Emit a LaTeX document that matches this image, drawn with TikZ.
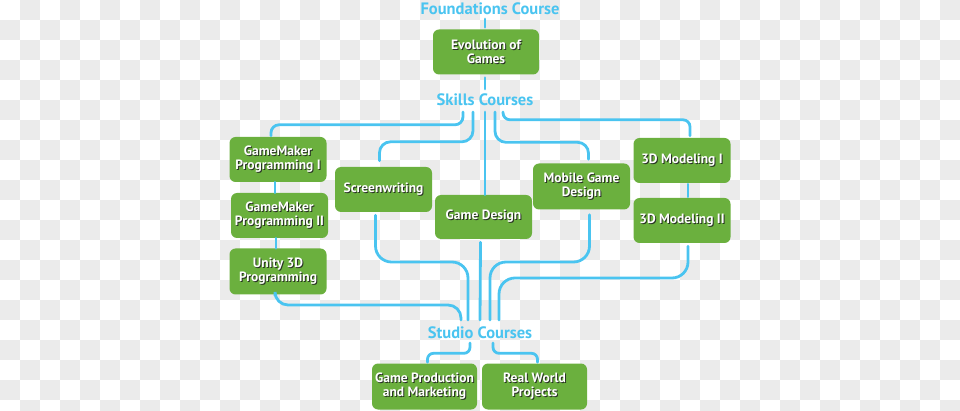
\documentclass[tikz,border=0pt]{standalone}
\usepackage{fontspec}
\setmainfont{PT Sans}
\newfontfamily\ptb{PT Sans Bold}
\usetikzlibrary{calc}
\definecolor{boxgreen}{RGB}{107,176,62}
\definecolor{lineblue}{RGB}{74,196,240}
\definecolor{chk}{RGB}{235,235,235}
\definecolor{shadowc}{RGB}{40,50,35}
\newcommand\sh[1]{\leavevmode\rlap{\kern1pt\raisebox{-1pt}{\textcolor{shadowc}{#1}}}#1}
\tikzset{
  coursebox/.style={rounded corners=6pt, fill=boxgreen, text=white, align=center,
    minimum width=97pt, minimum height=45pt, inner sep=2pt,
    font=\ptb\fontsize{13.5}{13.8}\selectfont},
  headlabel/.style={text=lineblue, font=\ptb\fontsize{16.5}{18}\selectfont,
    text height=11.8pt, text depth=0pt, inner sep=2pt},
  conn/.style={draw=lineblue, line width=2.8pt, line cap=round, rounded corners=11pt},
}
\begin{document}
\begin{tikzpicture}[x=1pt,y=-1pt]
\useasboundingbox (0,0) rectangle (960,411);
\begin{scope}
\clip (0,0) rectangle (960,411);
\foreach \i in {0,...,47}{
  \foreach \j in {0,...,20}{
    \pgfmathtruncatemacro\s{mod(\i+\j,2)}
    \ifnum\s=1 \fill[chk] (\i*20,\j*20) rectangle ++(20,20);\fi
  }
}
\end{scope}

% labels
\node[headlabel] (found) at (490,9) {Foundations Course};
\node[headlabel] (skills) at (485,100) {Skills Courses};
\node[headlabel] (studio) at (480,333) {Studio Courses};

% boxes
\node[coursebox, minimum width=106pt] (evo) at (486,52) {\sh{Evolution of}\\\sh{Games}};
\node[coursebox] (gm1) at (278,159.5) {\sh{GameMaker}\\\sh{Programming I}};
\node[coursebox] (gm2) at (279.5,215.5) {\sh{GameMaker}\\\sh{Programming II}};
\node[coursebox, minimum height=46pt] (unity) at (278,271.5) {\sh{Unity 3D}\\\sh{Programming}};
\node[coursebox] (screen) at (383.5,189.5) {\sh{Screenwriting}};
\node[coursebox, minimum height=44pt] (gd) at (483.5,217) {\sh{Game Design}};
\node[coursebox, minimum height=46pt] (mobile) at (581.5,186.5) {\sh{Mobile Game}\\\sh{Design}};
\node[coursebox] (m3d1) at (682,160.5) {\sh{3D Modeling I}};
\node[coursebox] (m3d2) at (682,220.5) {\sh{3D Modeling II}};
\node[coursebox, minimum width=105pt, minimum height=46pt] (gpm) at (424.5,386.5) {\sh{Game Production}\\\sh{and Marketing}};
\node[coursebox, minimum width=105pt, minimum height=46pt] (rwp) at (534.5,386.5) {\sh{Real World}\\\sh{Projects}};

% top connectors
\draw[conn] ($(found.center)+(-5,10)$) -- ($(evo.north)+(-1,-2)$);
\draw[conn] ($(evo.south)+(-1,3)$) -- ($(skills.center)+(0,-11)$);

% skills fan-out
\draw[conn, rounded corners=8pt] ($(skills.center)+(-22,12)$) |- ($(gm1.north)+(-7,-12)$) -- ($(gm1.north)+(-7,-1)$);
\draw[conn] ($(skills.center)+(-12,12)$) |- ($(screen.north)+(-4,-25)$) -- ($(screen.north)+(-4,-6)$);
\coordinate (gdtop) at (gd.north -| skills.center);
\draw[conn] ($(skills.center)+(0,12)$) -- (gdtop);
\draw[conn] ($(skills.center)+(10,12)$) |- ($(mobile.north)+(7,-21)$) -- ($(mobile.north)+(7,-4)$);
\draw[conn, rounded corners=7pt] ($(skills.center)+(18,12)$) |- ($(m3d1.north)+(8,-18)$) -- ($(m3d1.north)+(8,-2)$);

% stacks
\draw[conn] ($(gm1.south)+(-3,0)$) -- ($(gm2.north)+(-4.5,0)$);
\draw[conn] ($(gm2.south)+(-3.5,0)$) -- ($(unity.north)+(-2,0)$);
\draw[conn] ($(m3d1.south)+(6,1)$) -- ($(m3d2.north)+(6,-1)$);

% to studio
\draw[conn, rounded corners=13pt] ($(unity.south)+(-3,1)$) |- ($(studio.center)+(-19,-28)$) -- ($(studio.center)+(-19,-13)$);
\draw[conn, rounded corners=16pt] ($(screen.south)+(-8,3)$) |- ($(studio.center)+(-12,-71)$) -- ($(studio.center)+(-12,-13)$);
\draw[conn] ($(gd.south)+(-3,3)$) -- ($(studio.center)+(0,-13)$);
\draw[conn, rounded corners=16pt] ($(mobile.south)+(8,5)$) |- ($(studio.center)+(10,-71)$) -- ($(studio.center)+(10,-13)$);
\draw[conn, rounded corners=16pt] ($(m3d2.south)+(6,3)$) |- ($(studio.center)+(19,-55)$) -- ($(studio.center)+(19,-13)$);

% studio to bottom
\draw[conn, rounded corners=6pt] ($(studio.center)+(-10,10)$) |- ($(gpm.north)+(3,-10)$) -- ($(gpm.north)+(3,-1)$);
\draw[conn, rounded corners=6pt] ($(studio.center)+(13,10)$) |- ($(rwp.north)+(3,-10)$) -- ($(rwp.north)+(3,-1)$);
\end{tikzpicture}
\end{document}
